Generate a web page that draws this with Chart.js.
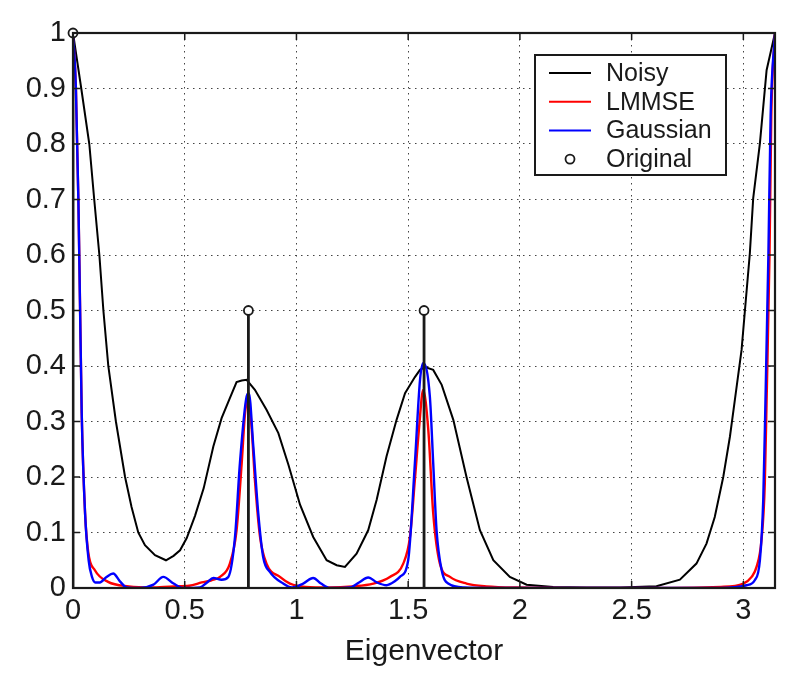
<!DOCTYPE html>
<html>
<head>
<meta charset="utf-8">
<script src="https://cdn.jsdelivr.net/npm/chart.js@4"></script>
<style>
    body { margin: 0; background: #fff; }
    #wrap { width: 800px; height: 682px; }
</style>
</head>
<body>
<div id="wrap"><canvas id="chart" width="800" height="682"></canvas></div>
<script>
// Noisy estimate
const noisyX = [0, 0.037, 0.073, 0.095, 0.118, 0.136, 0.158, 0.192, 0.233, 0.262, 0.292, 0.322, 0.367, 0.416, 0.45, 0.479, 0.509, 0.546, 0.585, 0.628, 0.665, 0.702, 0.732, 0.755, 0.777, 0.814, 0.866, 0.919, 0.964, 1.016, 1.075, 1.135, 1.18, 1.217, 1.269, 1.321, 1.359, 1.403, 1.448, 1.486, 1.53, 1.553, 1.575, 1.612, 1.65, 1.702, 1.761, 1.821, 1.881, 1.955, 2.03, 2.149, 2.3, 2.45, 2.611, 2.716, 2.79, 2.835, 2.872, 2.91, 2.94, 2.962, 2.992, 3.007, 3.029, 3.044, 3.074, 3.104, 3.1416];
const noisyY = [1.0, 0.9, 0.8, 0.7, 0.6, 0.5, 0.4, 0.3, 0.2, 0.146, 0.1, 0.077, 0.059, 0.05, 0.058, 0.068, 0.09, 0.13, 0.18, 0.255, 0.306, 0.342, 0.371, 0.374, 0.375, 0.357, 0.321, 0.279, 0.222, 0.15, 0.092, 0.05, 0.041, 0.038, 0.062, 0.104, 0.159, 0.237, 0.303, 0.351, 0.38, 0.393, 0.398, 0.393, 0.366, 0.303, 0.2, 0.104, 0.05, 0.02, 0.006, 0.002, 0.001, 0.001, 0.003, 0.015, 0.044, 0.08, 0.128, 0.2, 0.273, 0.339, 0.429, 0.5, 0.603, 0.702, 0.801, 0.933, 1.0];

// LMMSE estimate
const lmmseX = [0, 0.013, 0.024, 0.03, 0.039, 0.054, 0.068, 0.098, 0.157, 0.25, 0.35, 0.45, 0.52, 0.576, 0.62, 0.658, 0.702, 0.732, 0.755, 0.77, 0.785, 0.8, 0.814, 0.837, 0.866, 0.926, 0.971, 1.04, 1.15, 1.25, 1.344, 1.418, 1.478, 1.508, 1.53, 1.549, 1.567, 1.59, 1.612, 1.642, 1.687, 1.761, 1.85, 2.0, 2.5, 2.9, 3.0, 3.037, 3.059, 3.081, 3.096, 3.104, 3.117, 3.125, 3.1416];
const lmmseY = [1.0, 0.9, 0.7, 0.55, 0.315, 0.135, 0.065, 0.032, 0.011, 0.003, 0.001, 0.003, 0.004, 0.01, 0.014, 0.02, 0.044, 0.104, 0.225, 0.315, 0.34, 0.285, 0.195, 0.092, 0.044, 0.02, 0.008, 0.002, 0.001, 0.003, 0.008, 0.02, 0.044, 0.092, 0.195, 0.29, 0.357, 0.285, 0.135, 0.044, 0.02, 0.008, 0.003, 0.001, 0, 0.002, 0.008, 0.02, 0.038, 0.086, 0.189, 0.339, 0.6, 0.85, 1.0];

// Gaussian estimate
const gaussX = [0, 0.013, 0.024, 0.031, 0.039, 0.054, 0.07, 0.085, 0.1, 0.12, 0.15, 0.18, 0.21, 0.24, 0.3, 0.36, 0.404, 0.45, 0.494, 0.568, 0.6, 0.628, 0.665, 0.695, 0.725, 0.747, 0.777, 0.787, 0.807, 0.829, 0.851, 0.881, 0.941, 0.98, 1.03, 1.075, 1.11, 1.15, 1.24, 1.28, 1.321, 1.36, 1.403, 1.44, 1.463, 1.5, 1.53, 1.553, 1.567, 1.597, 1.612, 1.627, 1.65, 1.679, 1.75, 2.0, 2.9, 3.014, 3.051, 3.074, 3.089, 3.099, 3.112, 3.122, 3.1416];
const gaussY = [1.0, 0.9, 0.7, 0.52, 0.315, 0.135, 0.05, 0.02, 0.01, 0.01, 0.02, 0.026, 0.012, 0.001, 0, 0.006, 0.02, 0.008, 0, 0.001, 0.01, 0.018, 0.015, 0.02, 0.092, 0.225, 0.345, 0.351, 0.255, 0.135, 0.056, 0.029, 0.008, 0.001, 0.008, 0.018, 0.008, 0, 0.001, 0.01, 0.019, 0.01, 0.005, 0.012, 0.02, 0.05, 0.225, 0.375, 0.405, 0.345, 0.225, 0.104, 0.032, 0.008, 0.001, 0, 0, 0.005, 0.014, 0.05, 0.159, 0.339, 0.6, 0.85, 1.0];

// Original spectrum (non-zero entries)
const origX = [0, 0.785, 1.571];
const origY = [1.0, 0.5, 0.5];

const xTicks = [0, 0.5, 1, 1.5, 2, 2.5, 3];
const yTicks = [0, 0.1, 0.2, 0.3, 0.4, 0.5, 0.6, 0.7, 0.8, 0.9, 1];

const fontFamily = '"Liberation Sans", Arial, Helvetica, sans-serif';
const inkColor = '#1a1a1a';

function toPoints(xs, ys) {
    return xs.map((x, i) => ({ x: x, y: ys[i] }));
}

// stems go from 0 up to each original value, broken by a gap
const stemPoints = [];
origX.forEach((x, i) => {
    stemPoints.push({ x: x, y: 0 }, { x: x, y: origY[i] }, { x: x, y: null });
});

// Box around the plot with inward tick marks (matlab style)
const frame = {
    id: 'frame',
    afterDatasetsDraw(chart) {
        const { ctx, chartArea: a, scales } = chart;
        const len = 7;
        ctx.save();
        ctx.strokeStyle = inkColor;
        ctx.lineWidth = 1.5;
        ctx.beginPath();
        xTicks.forEach(v => {
            const px = scales.x.getPixelForValue(v);
            ctx.moveTo(px, a.bottom); ctx.lineTo(px, a.bottom - len);
            ctx.moveTo(px, a.top); ctx.lineTo(px, a.top + len);
        });
        yTicks.forEach(v => {
            const py = scales.y.getPixelForValue(v);
            ctx.moveTo(a.left, py); ctx.lineTo(a.left + len, py);
            ctx.moveTo(a.right, py); ctx.lineTo(a.right - len, py);
        });
        ctx.stroke();
        ctx.lineWidth = 2.2;
        ctx.strokeRect(a.left, a.top, a.right - a.left, a.bottom - a.top);
        ctx.restore();
    }
};

// Legend drawn as a boxed panel inside the plot, top right
const boxLegend = {
    id: 'boxLegend',
    afterDraw(chart) {
        const { ctx, chartArea: a } = chart;
        const x0 = a.right - 240;
        const y0 = a.top + 22;
        const w = 191, h = 120;
        ctx.save();
        ctx.fillStyle = '#fff';
        ctx.fillRect(x0, y0, w, h);
        ctx.strokeStyle = inkColor;
        ctx.lineWidth = 2;
        ctx.strokeRect(x0, y0, w, h);

        ctx.font = '25px ' + fontFamily;
        ctx.textBaseline = 'middle';
        ctx.textAlign = 'left';
        const items = chart.data.datasets.filter(ds => ds.inLegend);
        items.forEach((ds, i) => {
            const y = y0 + 18 + i * 28.7;
            if (ds.showLine === false) {
                ctx.beginPath();
                ctx.arc(x0 + 35, y, 4.5, 0, Math.PI * 2);
                ctx.fillStyle = '#fff';
                ctx.fill();
                ctx.lineWidth = 1.8;
                ctx.strokeStyle = inkColor;
                ctx.stroke();
            } else {
                ctx.beginPath();
                ctx.moveTo(x0 + 14, y);
                ctx.lineTo(x0 + 56, y);
                ctx.lineWidth = 2;
                ctx.strokeStyle = ds.borderColor;
                ctx.stroke();
            }
            ctx.fillStyle = inkColor;
            ctx.fillText(ds.label, x0 + 71, y + 1);
        });
        ctx.restore();
    }
};

const ctx = document.getElementById('chart').getContext('2d');

new Chart(ctx, {
    type: 'line',
    data: {
        datasets: [
            {
                label: 'Noisy',
                data: toPoints(noisyX, noisyY),
                borderColor: '#000000',
                borderWidth: 2,
                pointRadius: 0,
                tension: 0,
                inLegend: true,
                order: 4
            },
            {
                label: 'LMMSE',
                data: toPoints(lmmseX, lmmseY),
                borderColor: '#ff0000',
                borderWidth: 2.4,
                pointRadius: 0,
                cubicInterpolationMode: 'monotone',
                inLegend: true,
                order: 3
            },
            {
                label: 'Gaussian',
                data: toPoints(gaussX, gaussY),
                borderColor: '#0000ff',
                borderWidth: 2.4,
                pointRadius: 0,
                cubicInterpolationMode: 'monotone',
                inLegend: true,
                order: 2
            },
            {
                label: 'Original',
                data: toPoints(origX, origY),
                showLine: false,
                pointRadius: 4.5,
                pointBorderWidth: 1.8,
                pointBackgroundColor: '#ffffff',
                pointBorderColor: inkColor,
                clip: false,
                inLegend: true,
                order: 0
            },
            {
                label: 'stems',
                data: stemPoints,
                borderColor: inkColor,
                borderWidth: 2.8,
                pointRadius: 0,
                spanGaps: false,
                order: 1
            }
        ]
    },
    options: {
        responsive: false,
        animation: false,
        layout: {
            padding: { top: 33, right: 25, left: 0, bottom: 0 }
        },
        plugins: {
            legend: { display: false },
            tooltip: { enabled: false }
        },
        scales: {
            x: {
                type: 'linear',
                min: 0,
                max: Math.PI,
                afterBuildTicks: scale => {
                    scale.ticks = xTicks.map(v => ({ value: v }));
                },
                afterFit: scale => {
                    scale.height = 94;
                },
                ticks: {
                    font: { family: fontFamily, size: 29 },
                    color: inkColor,
                    padding: 6,
                    maxRotation: 0,
                    autoSkip: false,
                    callback: v => String(v)
                },
                grid: {
                    color: '#444',
                    lineWidth: 1,
                    drawTicks: false
                },
                border: { display: false, dash: [1.5, 4.5] },
                title: {
                    display: true,
                    text: 'Eigenvector',
                    font: { family: fontFamily, size: 30 },
                    color: inkColor,
                    padding: { top: 0, bottom: 12 }
                }
            },
            y: {
                min: 0,
                max: 1,
                afterBuildTicks: scale => {
                    scale.ticks = yTicks.map(v => ({ value: v }));
                },
                afterFit: scale => {
                    scale.width = 73;
                },
                ticks: {
                    font: { family: fontFamily, size: 29 },
                    color: inkColor,
                    padding: 7,
                    autoSkip: false,
                    callback: v => String(v)
                },
                grid: {
                    color: '#444',
                    lineWidth: 1,
                    drawTicks: false
                },
                border: { display: false, dash: [1.5, 4.5] }
            }
        }
    },
    plugins: [frame, boxLegend]
});
</script>
</body>
</html>
